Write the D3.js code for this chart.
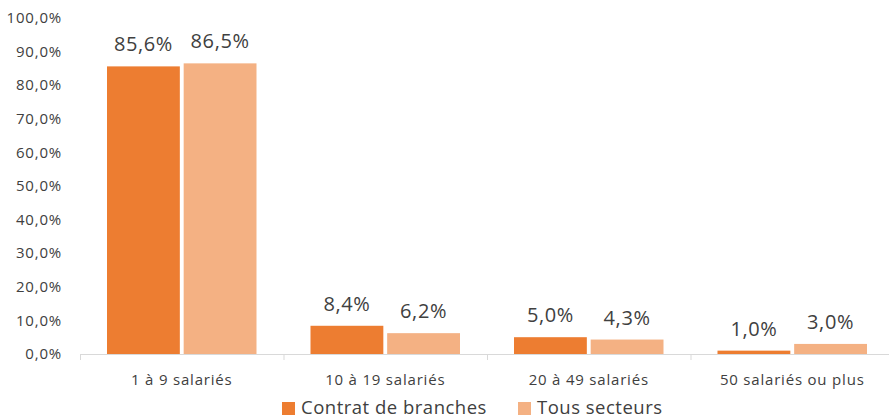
<!DOCTYPE html>
<html>
<head>
<meta charset="utf-8">
<script src="https://cdn.jsdelivr.net/npm/d3@7"></script>
<style>
  body { margin: 0; background: #fff; }
  text { font-family: "Open Sans", sans-serif; fill: #404040; }
</style>
</head>
<body>
<div id="chart"></div>
<script>
// data
let categories = ["1 à 9 salariés", "10 à 19 salariés", "20 à 49 salariés", "50 salariés ou plus"]
let series = ["Contrat de branches", "Tous secteurs"]
let branches = [85.6, 8.4, 5.0, 1.0]
let tous = [86.5, 6.2, 4.3, 3.0]
let yTicks = [0, 10, 20, 30, 40, 50, 60, 70, 80, 90, 100]
let colors = ["#ED7D31", "#F4B183"]

let width = 889, height = 416
let svg = d3.select("#chart").append("svg")
  .attr("width", width)
  .attr("height", height)

let fmt = v => v.toFixed(1).replace(".", ",") + "%"

let x = d3.scaleBand()
  .domain(categories)
  .range([80, 894])
  .paddingInner(0)
  .paddingOuter(0)

let x1 = d3.scaleBand()
  .domain(series)
  .range([27, x.bandwidth() - 27])
  .paddingInner(0.05)

let y = d3.scaleLinear()
  .domain([0, 100])
  .range([354, 18])

// y axis labels
svg.append("g")
  .selectAll("text")
  .data(yTicks)
  .enter().append("text")
    .attr("x", 62)
    .attr("y", d => y(d))
    .attr("dy", "0.35em")
    .attr("text-anchor", "end")
    .style("font-size", "15px")
    .style("letter-spacing", "0.8px")
    .text(d => fmt(d))

// x axis line + ticks
let xAxis = svg.append("g")
xAxis.append("line")
  .attr("x1", x.range()[0]).attr("x2", width)
  .attr("y1", y(0) + 0.5).attr("y2", y(0) + 0.5)
  .attr("stroke", "#d9d9d9")
xAxis.selectAll(".tick")
  .data(categories.concat([null]))
  .enter().append("line")
    .attr("x1", (d, i) => x.range()[0] + i * x.bandwidth() + 0.5)
    .attr("x2", (d, i) => x.range()[0] + i * x.bandwidth() + 0.5)
    .attr("y1", y(0))
    .attr("y2", y(0) + 6)
    .attr("stroke", "#d9d9d9")
xAxis.selectAll(".lab")
  .data(categories)
  .enter().append("text")
    .attr("x", d => x(d) + x.bandwidth() / 2)
    .attr("y", 385)
    .attr("text-anchor", "middle")
    .style("font-size", "15px")
    .style("letter-spacing", "0.8px")
    .text(d => d)

// bars
let rows = categories.map((c, i) => ({cat: c, vals: [branches[i], tous[i]]}))
let groups = svg.selectAll(".grp")
  .data(rows)
  .enter().append("g")
    .attr("transform", d => "translate(" + x(d.cat) + ",0)")

groups.selectAll("rect")
  .data(d => d.vals.map((v, j) => ({s: series[j], v: v, j: j})))
  .enter().append("rect")
    .attr("x", d => x1(d.s))
    .attr("y", d => y(d.v))
    .attr("width", x1.bandwidth())
    .attr("height", d => y(0) - y(d.v))
    .attr("fill", d => colors[d.j])

groups.selectAll(".val")
  .data(d => d.vals.map((v, j) => ({s: series[j], v: v, j: j})))
  .enter().append("text")
    .attr("x", d => x1(d.s) + x1.bandwidth() / 2)
    .attr("y", d => y(d.v) - 15)
    .attr("text-anchor", "middle")
    .style("font-size", "20px")
    .style("letter-spacing", "0.6px")
    .text(d => fmt(d.v))

// legend
let legendX = [282, 518]
let legend = svg.selectAll(".leg")
  .data(series)
  .enter().append("g")
    .attr("transform", (d, i) => "translate(" + legendX[i] + ",402)")
legend.append("rect")
  .attr("width", 13).attr("height", 13)
  .attr("fill", (d, i) => colors[i])
legend.append("text")
  .attr("x", 19)
  .attr("y", 12)
  .style("font-size", "18.5px")
  .style("letter-spacing", "0.5px")
  .text(d => d)
</script>
</body>
</html>
